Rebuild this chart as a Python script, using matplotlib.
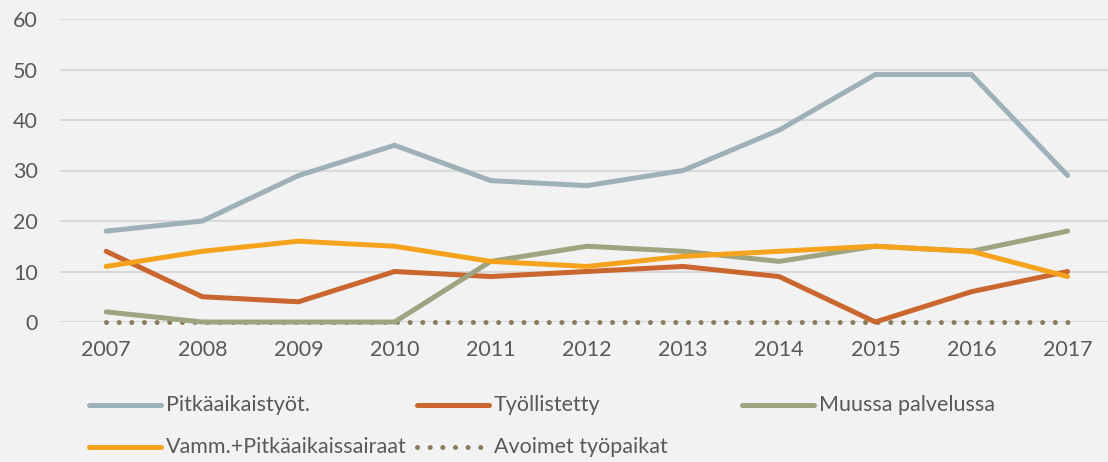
import numpy as np
import matplotlib
matplotlib.use('Agg')
import matplotlib.pyplot as plt
from matplotlib.lines import Line2D

plt.rcParams['font.family'] = ['Lato', 'DejaVu Sans']

years = [2007, 2008, 2009, 2010, 2011, 2012, 2013, 2014, 2015, 2016, 2017]
pitkaaikaistyot = [18, 20, 29, 35, 28, 27, 30, 38, 49, 49, 29]
tyollistetty = [14, 5, 4, 10, 9, 10, 11, 9, 0, 6, 10]
muussa_palvelussa = [2, 0, 0, 0, 12, 15, 14, 12, 15, 14, 18]
vamm_pitkaaikaissairaat = [11, 14, 16, 15, 12, 11, 13, 14, 15, 14, 9]
avoimet_tyopaikat = [0, 0, 0, 0, 0, 0, 0, 0, 0, 0, 0]
yticks = [0, 10, 20, 30, 40, 50, 60]

bg = '#f2f2f2'
txt = '#595959'
dots = (0, (0.01, 2.52))
fs = 15.5

series = [
    ('Pitkäaikaistyöt.', pitkaaikaistyot, '#9fb1b8', '-'),
    ('Työllistetty', tyollistetty, '#c9672f', '-'),
    ('Muussa palvelussa', muussa_palvelussa, '#9ea381', '-'),
    ('Vamm.+Pitkäaikaissairaat', vamm_pitkaaikaissairaat, '#f5a31d', '-'),
    ('Avoimet työpaikat', avoimet_tyopaikat, '#8b7b5d', dots),
]

fig = plt.figure(figsize=(11.08, 4.62), dpi=100, facecolor=bg)
ax = fig.add_axes([60/1108, 1-322/462, 1-60/1108, (322-19)/462])
ax.set_facecolor(bg)

x = np.arange(len(years))
# dotted series underneath the solid ones
order = [4, 0, 1, 2, 3]
for i in order:
    name, vals, col, ls = series[i]
    ax.plot(x, vals, color=col, lw=3.6, linestyle=ls,
            solid_capstyle='round', dash_capstyle='round',
            solid_joinstyle='miter', clip_on=False, zorder=3 if ls == '-' else 2)

ax.set_xlim(-0.48, len(years) - 1 + 0.42)
ax.set_ylim(0, 60)
ax.set_yticks(yticks)
ax.set_xticks(x)
ax.set_xticklabels([str(y) for y in years])
ax.grid(axis='y', color='#d9d9d9', lw=1.5)
ax.set_axisbelow(True)
for s in ax.spines.values():
    s.set_visible(False)
ax.tick_params(length=0, labelsize=fs, labelcolor=txt)
ax.tick_params(axis='y', pad=16)
ax.tick_params(axis='x', pad=13)

# legend, Excel style with equal column widths
W, H = 1108, 462
pos = [(89, 405), (417, 405), (742, 405), (89, 447), (417, 447)]
for (name, vals, col, ls), (px, py) in zip(series, pos):
    fy = 1 - py / H
    fig.add_artist(Line2D([px / W, (px + 72) / W], [fy, fy], color=col,
                          lw=3.6, linestyle=ls,
                          solid_capstyle='round', dash_capstyle='round'))
    fig.text((px + 77) / W, fy, name, fontsize=fs, color=txt,
             ha='left', va='center')

fig.savefig('out.png', dpi=100, facecolor=bg)
